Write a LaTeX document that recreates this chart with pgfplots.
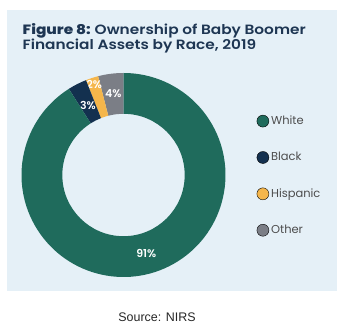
\documentclass[border=0pt]{standalone}
\usepackage{fontspec}
\setmainfont{Poppins}
\newfontfamily\popsemi{Poppins}[UprightFont={* SemiBold}, BoldFont={* ExtraBold}]
\newfontfamily\poptitle{Poppins}[UprightFont={* SemiBold}, BoldFont={* ExtraBold}, FakeStretch=1.14]
\newfontfamily\arial{Liberation Sans}
\usepackage{pgfplots}
\pgfplotsset{compat=1.18}

\definecolor{cwhite}{HTML}{1F6B5C}
\definecolor{cblack}{HTML}{13304F}
\definecolor{chisp}{HTML}{F5B64B}
\definecolor{cother}{HTML}{7B7E86}
\definecolor{panel}{HTML}{E5F0F7}
\definecolor{titlec}{HTML}{1E3653}
\definecolor{legtext}{HTML}{4D4D4D}

% #1 percentage, #2 cumulative start, #3 colour, #4 label radius
\newcommand\slice[4]{%
  \pgfmathsetmacro\aA{90+3.6*#2}%
  \pgfmathsetmacro\aB{90+3.6*(#2+#1)}%
  \pgfmathsetmacro\aM{(\aA+\aB)/2}%
  \edef\tmp{\noexpand\fill[#3] ({cos(\aA)},{sin(\aA)}) arc[start angle=\aA, end angle=\aB, radius=1] -- ({0.6*cos(\aB)},{0.6*sin(\aB)}) arc[start angle=\aB, end angle=\aA, radius=0.6] -- cycle;
  \noexpand\node[pctlabel] at ({#4*cos(\aM)},{#4*sin(\aM)}) {#1\noexpand\%};}%
  \tmp}

\begin{document}
\begin{tikzpicture}[pctlabel/.style={text=white, font=\popsemi\fontsize{11}{13}\selectfont, inner sep=0pt}]
\path[use as bounding box] (0,0) rectangle (343bp,325bp);
\fill[panel] (7bp,34bp) rectangle (337bp,315bp);
\node[anchor=base west, text=titlec, inner sep=0pt] at (22.5bp,290bp) {\fontsize{13.5}{15}\selectfont\poptitle\bfseries Figure 8: \mdseries Ownership of Baby Boomer};
\node[anchor=base west, text=titlec, inner sep=0pt] at (22.5bp,275bp) {\fontsize{13.5}{15}\selectfont\poptitle Financial Assets by Race, 2019};
\begin{axis}[
  at={(123.5bp,150bp)}, anchor=origin,
  x=102bp, y=102bp,
  xmin=-1, xmax=1, ymin=-1, ymax=1,
  hide axis, clip=false,
  legend cell align=left,
  legend image code/.code={\fill[#1] (6bp,0bp) circle[radius=6bp];},
  legend style={draw=none, fill=none, at={(1.152,0.80)}, anchor=north west,
    inner sep=0pt, row sep=22.3bp, column sep=0pt,
    font=\fontsize{11.5}{13}\selectfont, text=legtext},
]
\slice{4}{0}{cother}{0.8}
\slice{2}{4}{chisp}{0.93}
\slice{3}{6}{cblack}{0.77}
\slice{91}{9}{cwhite}{0.8}
\addlegendimage{fill=cwhite}\addlegendentry{White}
\addlegendimage{fill=cblack}\addlegendentry{Black}
\addlegendimage{fill=chisp}\addlegendentry{Hispanic}
\addlegendimage{fill=cother}\addlegendentry{Other}
\end{axis}
\node[anchor=base, text=black!85, inner sep=0pt] at (157bp,4bp) {\arial\fontsize{12.5}{14}\selectfont Source: NIRS};
\end{tikzpicture}
\end{document}
